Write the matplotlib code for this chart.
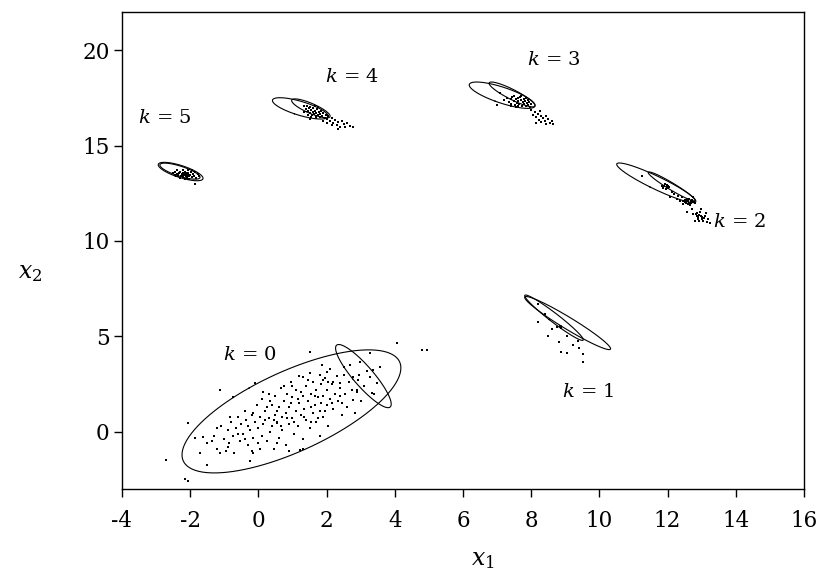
import numpy as np
import matplotlib
matplotlib.use("Agg")
import matplotlib.pyplot as plt

plt.rcParams["font.family"] = "DejaVu Serif"
plt.rcParams["mathtext.fontset"] = "dejavuserif"
plt.rcParams["axes.unicode_minus"] = False

# samples per component
pts0 = [
    (-2.71, -1.46), (-2.15, -2.45), (-2.05, -2.6), (-2.06, 0.45), (-1.13, 2.19), (-1.52, -1.72),
    (-1.13, -1.11), (-1.62, -0.25), (-1.22, 0.19), (-0.83, 0.80), (-0.74, 1.84), (-0.10, 2.57),
    (-0.15, -1.11), (-0.25, -1.55), (1.22, -0.94), (0.54, 0.45), (1.51, 4.19), (4.06, 4.63),
    (4.79, 4.28), (4.94, 4.28), (3.27, 4.11), (3.57, 3.41), (3.37, 3.24), (2.98, 3.67),
    (2.51, 3.41), (2.78, 2.89), (2.93, 2.72), (3.27, 2.89), (3.47, 2.54), (2.88, 2.19),
    (3.32, 2.02), (2.78, 1.67), (2.44, 1.50), (2.83, 0.98), (2.39, 2.54), (2.20, 2.63),
    (1.90, 2.72), (2.00, 3.15), (1.86, 3.50), (1.32, 2.89),
    (-1.5, -0.6), (-1.3, -0.2), (-1.2, -0.9), (-1.1, 0.3), (-1.0, -0.4), (-0.95, -1.0),
    (-0.9, 0.1), (-0.85, -0.6), (-0.8, 0.5), (-0.75, -0.2), (-0.7, -1.1), (-0.65, 0.2),
    (-0.6, 0.8), (-0.55, -0.5), (-0.5, 0.4), (-0.45, -0.1), (-0.4, 1.1), (-0.35, 0.6),
    (-0.3, -0.7), (-0.25, 0.1), (-0.2, 0.9), (-0.15, -0.3), (-0.1, 0.5), (-0.05, 1.4),
    (0.0, 0.2), (0.0, -0.6), (0.05, 0.8), (0.1, 1.7), (0.1, -0.2), (0.15, 0.4),
    (0.2, 1.1), (0.25, -0.5), (0.3, 0.7), (0.3, 2.0), (0.35, 0.0), (0.4, 1.4),
    (0.4, 0.3), (0.45, -0.9), (0.5, 0.9), (0.5, 1.9), (0.55, 0.5), (0.6, -0.3),
    (0.6, 1.3), (0.65, 2.3), (0.7, 0.1), (0.7, 0.8), (0.75, 1.6), (0.8, -0.7),
    (0.8, 1.0), (0.85, 2.0), (0.9, 0.4), (0.9, 1.3), (0.95, 2.6), (1.0, 0.7),
    (1.0, 1.8), (1.05, -0.1), (1.1, 1.1), (1.1, 2.2), (1.15, 0.3), (1.2, 1.5),
    (1.2, 2.9), (1.25, 0.9), (1.3, 1.9), (1.3, -0.4), (1.35, 1.2), (1.4, 2.4),
    (1.4, 0.6), (1.45, 1.6), (1.5, 3.1), (1.5, 0.2), (1.55, 2.0), (1.6, 1.0),
    (1.6, 2.6), (1.65, 1.4), (1.7, 0.5), (1.7, 2.2), (1.75, 1.8), (1.8, 3.0),
    (1.8, 1.1), (1.85, 2.5), (1.9, 0.8), (1.9, 1.9), (1.95, 2.8), (2.0, 1.4),
    (2.0, 2.2), (2.05, 0.3), (2.1, 1.7), (2.1, 3.3), (2.15, 2.5), (2.2, 1.2),
    (2.25, 2.0), (2.3, 2.9), (2.35, 1.6), (2.4, 2.3), (2.45, 0.9), (2.5, 3.0),
    (2.55, 2.0), (2.6, 1.3), (2.65, 2.6), (2.7, 3.5),
    (-0.6, -0.1), (-0.3, 0.3), (0.2, 0.6), (0.25, 1.3), (0.55, 1.1), (0.65, 0.3),
    (0.85, 0.7), (0.95, 1.5), (1.05, 0.5), (1.15, 1.7), (1.25, 2.1), (1.35, 0.8),
    (1.45, 2.7), (1.55, 1.3), (1.65, 1.9), (1.75, 0.7), (1.85, 1.5), (1.95, 1.1),
    (2.05, 2.6), (2.15, 1.5), (0.35, 1.6), (0.45, 0.6), (0.75, 2.4), (-0.15, 1.0),
    (-0.4, -0.4), (0.05, -0.9), (0.55, -0.6), (1.55, 0.5), (2.4, 1.9), (2.75, 2.2),
    (1.0, 2.4), (0.15, 2.1), (-0.2, -1.0), (-0.9, -0.8), (-1.35, -0.5), (2.9, 2.1),
    (2.95, 3.0), (3.1, 2.4), (3.2, 3.2), (3.4, 2.0), (3.0, 1.6), (1.8, -0.2),
    (1.3, -0.9), (0.9, -1.0), (-1.7, -1.1), (-1.85, -0.3),
]

pts1 = [
    (8.19, 6.72), (8.41, 6.20), (8.21, 5.73), (8.60, 5.41), (8.75, 5.47), (8.84, 5.54),
    (8.89, 5.42), (9.04, 5.01), (8.50, 5.03), (8.82, 4.72), (9.36, 4.77), (9.22, 4.54),
    (9.41, 4.37), (8.87, 4.19), (9.06, 4.14), (9.51, 4.06), (9.51, 3.67),
]

pts2 = [
    (11.83, 12.90), (11.92, 12.99), (11.97, 12.81), (11.87, 12.78), (12.02, 12.90),
    (12.12, 12.55), (12.20, 12.46), (12.07, 12.29), (12.27, 12.20), (12.36, 12.11),
    (12.41, 12.29), (12.51, 12.03), (12.56, 12.20), (12.61, 12.08), (12.66, 11.94),
    (12.71, 12.15), (12.46, 11.94), (12.31, 12.38), (12.75, 11.42), (12.85, 11.33),
    (12.90, 11.16), (12.95, 11.50), (13.00, 11.24), (13.05, 11.07), (12.80, 11.07),
    (13.10, 11.33), (12.56, 11.50), (13.15, 10.98), (12.98, 11.68), (12.71, 11.68),
    (11.24, 13.42), (12.75, 12.29), (12.58, 12.12), (12.64, 12.00), (12.68, 12.10),
    (12.52, 12.15), (12.70, 11.98), (12.88, 11.25), (12.93, 11.36), (13.02, 11.15),
    (12.87, 11.45), (11.90, 12.86), (11.95, 12.72), (12.78, 12.05), (13.08, 11.20),
    (12.62, 12.22), (12.73, 12.06), (12.67, 11.88), (12.55, 11.98), (12.83, 11.40),
    (12.92, 11.05), (13.20, 11.15), (13.25, 10.95), (12.97, 11.30), (13.12, 11.45),
    (11.99, 12.95), (12.05, 12.85), (12.45, 12.10), (12.80, 12.00), (12.60, 11.92),
]

pts3 = [
    (7.00, 17.15), (7.08, 17.78), (7.20, 17.40), (7.30, 17.50), (7.35, 17.30), (7.40, 17.45),
    (7.42, 17.20), (7.45, 17.55), (7.50, 17.35), (7.52, 17.15), (7.55, 17.45), (7.58, 17.25),
    (7.60, 17.50), (7.62, 17.35), (7.65, 17.20), (7.67, 17.55), (7.70, 17.40), (7.72, 17.10),
    (7.75, 17.30), (7.78, 17.45), (7.80, 17.20), (7.82, 17.35), (7.85, 17.05), (7.88, 17.25),
    (7.90, 17.40), (7.92, 17.15), (7.95, 17.30), (7.98, 17.00), (8.00, 17.20), (7.60, 17.05),
    (7.40, 17.10), (7.50, 17.60), (7.70, 17.60), (7.85, 17.50), (7.55, 17.00),
    (8.00, 16.85), (8.05, 16.60), (8.10, 16.75), (8.15, 16.50), (8.20, 16.65), (8.22, 16.35),
    (8.28, 16.55), (8.30, 16.25), (8.35, 16.45), (8.40, 16.30), (8.45, 16.15), (8.50, 16.40),
    (8.55, 16.20), (8.60, 16.30), (8.64, 16.15), (8.15, 16.20), (8.25, 16.80), (8.45, 16.55),
]

pts4 = [
    (1.35, 17.05), (1.40, 16.90), (1.42, 17.10), (1.45, 16.80), (1.48, 16.95), (1.50, 16.70),
    (1.52, 17.00), (1.55, 16.85), (1.58, 16.60), (1.60, 16.75), (1.60, 16.95), (1.62, 16.65),
    (1.65, 16.80), (1.68, 16.55), (1.70, 16.70), (1.72, 16.90), (1.75, 16.60), (1.78, 16.75),
    (1.80, 16.50), (1.82, 16.65), (1.85, 16.80), (1.88, 16.55), (1.90, 16.70), (1.55, 16.50),
    (1.45, 16.60), (1.65, 17.05), (1.35, 16.75), (1.95, 16.45), (1.70, 16.45), (1.50, 16.40),
    (1.75, 17.00), (1.98, 16.60), (2.00, 16.40),
    (2.05, 16.55), (2.10, 16.30), (2.15, 16.45), (2.20, 16.20), (2.25, 16.35), (2.30, 16.10),
    (2.35, 16.25), (2.40, 16.00), (2.45, 16.30), (2.50, 16.15), (2.55, 15.95), (2.60, 16.20),
    (2.70, 16.05), (2.78, 15.95), (2.35, 15.85), (2.15, 16.10), (2.00, 16.20), (1.90, 16.30),
]

pts5 = [
    (-2.45, 13.60), (-2.40, 13.50), (-2.38, 13.70), (-2.35, 13.45), (-2.32, 13.55), (-2.30, 13.62),
    (-2.28, 13.40), (-2.25, 13.50), (-2.22, 13.58), (-2.20, 13.35), (-2.18, 13.45), (-2.16, 13.52),
    (-2.14, 13.60), (-2.12, 13.40), (-2.10, 13.50), (-2.08, 13.30), (-2.06, 13.45), (-2.05, 13.55),
    (-2.02, 13.38), (-2.00, 13.48), (-1.98, 13.60), (-1.95, 13.35), (-1.92, 13.50), (-1.88, 13.42),
    (-1.85, 13.62), (-1.82, 13.30), (-1.78, 13.50), (-1.75, 13.40), (-2.30, 13.30), (-2.20, 13.70),
    (-2.15, 13.25), (-2.05, 13.70), (-2.25, 13.45), (-2.12, 13.55), (-2.08, 13.42), (-1.86, 13.00),
    (-2.50, 13.55), (-1.95, 13.70), (-2.35, 13.38), (-2.02, 13.25),
]

samples = [pts0, pts1, pts2, pts3, pts4, pts5]

# two fitted gaussians per component: mean and (sxx, sxy, syy)
means_a = [(0.97, 1.07), (9.07, 5.70), (11.67, 13.05), (7.15, 17.64), (1.23, 16.95), (-2.28, 13.64)]
covs_a = [(10.3, 7.3, 10.4), (1.588, -1.693, 1.937), (1.348, -1.123, 1.078),
          (0.933, -0.517, 0.478), (0.668, -0.335, 0.313), (0.432, -0.232, 0.233)]
means_b = [(3.08, 2.92), (8.67, 5.98), (12.12, 12.86), (7.44, 17.68), (1.54, 16.95), (-2.30, 13.66)]
covs_b = [(0.666, -1.196, 2.74), (0.738, -0.990, 1.415), (0.474, -0.501, 0.575),
          (0.453, -0.392, 0.424), (0.319, -0.231, 0.247), (0.347, -0.188, 0.177)]

labels = ["$k$ = 0", "$k$ = 1", "$k$ = 2", "$k$ = 3", "$k$ = 4", "$k$ = 5"]
label_pos = [(-0.25, 4.04), (9.67, 2.10), (14.12, 10.98), (8.67, 19.51), (2.74, 18.59), (-2.74, 16.46)]


def ellipse_xy(mean, cov, n=200):
    s = np.array([[cov[0], cov[1]], [cov[1], cov[2]]])
    vals, vecs = np.linalg.eigh(s)
    t = np.linspace(0, 2 * np.pi, n)
    circ = np.vstack([np.cos(t), np.sin(t)])
    pts = vecs @ (np.sqrt(vals)[:, None] * circ)
    return mean[0] + pts[0], mean[1] + pts[1]


fig = plt.figure(figsize=(8.17, 5.72), dpi=100)
ax = fig.add_axes([0.1493, 0.145, 0.8347, 0.834])

for pts in samples:
    arr = np.array(pts)
    ax.scatter(arr[:, 0], arr[:, 1], s=2.5, c="black", marker="s", linewidths=0)

for m, c in zip(means_a, covs_a):
    ex, ey = ellipse_xy(m, c)
    ax.plot(ex, ey, color="black", lw=0.8)
for m, c in zip(means_b, covs_b):
    ex, ey = ellipse_xy(m, c)
    ax.plot(ex, ey, color="black", lw=0.8)

for lab, (lx, ly) in zip(labels, label_pos):
    ax.text(lx, ly, lab, fontsize=14, ha="center", va="center")

ax.set_xlim(-4, 16)
ax.set_ylim(-3, 22)
ax.set_xticks(range(-4, 17, 2))
ax.set_yticks([0, 5, 10, 15, 20])
ax.tick_params(direction="out", length=6, width=1, labelsize=15.5)
ax.tick_params(axis="x", pad=9)
ax.tick_params(axis="y", pad=3)
for sp in ax.spines.values():
    sp.set_linewidth(1)

ax.text(0.529, -0.147, "$x_1$", transform=ax.transAxes, fontsize=17, ha="center", va="center")
ax.text(-0.135, 0.455, "$x_2$", transform=ax.transAxes, fontsize=17, ha="center", va="center")

fig.savefig("out.png", dpi=100)
